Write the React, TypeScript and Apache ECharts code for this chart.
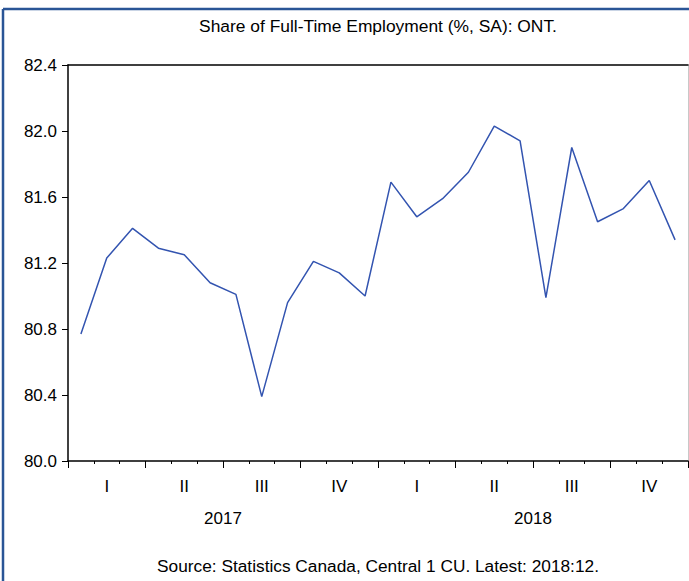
import React, { useEffect, useRef } from "react";
import * as echarts from "echarts";

const months = [
  "2017-01", "2017-02", "2017-03", "2017-04", "2017-05", "2017-06",
  "2017-07", "2017-08", "2017-09", "2017-10", "2017-11", "2017-12",
  "2018-01", "2018-02", "2018-03", "2018-04", "2018-05", "2018-06",
  "2018-07", "2018-08", "2018-09", "2018-10", "2018-11", "2018-12",
];
const shareFullTime = [
  80.77, 81.23, 81.41, 81.29, 81.25, 81.08, 81.01, 80.39, 80.96, 81.21, 81.14, 81.0,
  81.69, 81.48, 81.59, 81.75, 82.03, 81.94, 80.99, 81.9, 81.45, 81.53, 81.7, 81.34,
];
const quarterIds = ["2017Q1", "2017Q2", "2017Q3", "2017Q4", "2018Q1", "2018Q2", "2018Q3", "2018Q4"];
const quarterLabels = ["I", "II", "III", "IV", "I", "II", "III", "IV"];
const years = ["2017", "2018"];
const yMin = 80.0;
const yMax = 82.4;
const yStep = 0.4;

const titleText = "Share of Full-Time Employment (%, SA): ONT.";
const sourceText = "Source: Statistics Canada, Central 1 CU. Latest: 2018:12.";

const FONT = '"Liberation Sans", Arial, Helvetica, sans-serif';

export default function App() {
  const ref = useRef<HTMLDivElement>(null);
  useEffect(() => {
    if (!ref.current) return;
    const chart = echarts.init(ref.current, undefined, { renderer: "svg" });
    const hidden = { show: false };
    chart.setOption({
      animation: false,
      backgroundColor: "#ffffff",
      title: [
        {
          text: titleText,
          left: 378,
          top: 17,
          padding: 0,
          textAlign: "center",
          textStyle: { fontFamily: FONT, fontSize: 17.4, fontWeight: "normal", color: "#000" },
        },
        {
          text: sourceText,
          left: 378,
          top: 557,
          padding: 0,
          textAlign: "center",
          textStyle: { fontFamily: FONT, fontSize: 17.3, fontWeight: "normal", color: "#000" },
        },
      ],
      grid: { left: 68, right: 1, top: 65, bottom: 120, containLabel: false },
      xAxis: [
        {
          type: "category",
          data: months,
          position: "bottom",
          boundaryGap: true,
          axisLine: { show: true, lineStyle: { color: "#000", width: 1.5 } },
          axisTick: { show: true, interval: 0, length: 3, lineStyle: { color: "#000", width: 1 } },
          axisLabel: hidden,
          splitLine: hidden,
        },
        {
          type: "category",
          data: quarterIds,
          position: "bottom",
          boundaryGap: true,
          axisLine: hidden,
          axisTick: { show: true, interval: 0, length: 7, lineStyle: { color: "#000", width: 1 } },
          axisLabel: {
            show: true,
            interval: 0,
            margin: 17,
            fontFamily: FONT,
            fontSize: 17,
            color: "#000",
            formatter: (_v: string, i: number) => quarterLabels[i],
          },
          splitLine: hidden,
        },
        {
          type: "category",
          data: years,
          position: "bottom",
          boundaryGap: true,
          axisLine: hidden,
          axisTick: hidden,
          axisLabel: { show: true, interval: 0, margin: 49, fontFamily: FONT, fontSize: 17, color: "#000" },
          splitLine: hidden,
        },
        {
          type: "category",
          data: months,
          position: "top",
          boundaryGap: true,
          axisLine: { show: true, lineStyle: { color: "#000", width: 1.5 } },
          axisTick: hidden,
          axisLabel: hidden,
          splitLine: hidden,
        },
      ],
      yAxis: [
        {
          type: "value",
          min: yMin,
          max: yMax,
          interval: yStep,
          position: "left",
          axisLine: { show: true, lineStyle: { color: "#000", width: 1.5 } },
          axisTick: { show: true, length: 6, lineStyle: { color: "#000", width: 1 } },
          axisLabel: {
            show: true,
            margin: 11,
            fontFamily: FONT,
            fontSize: 17,
            color: "#000",
            formatter: (v: number) => v.toFixed(1),
          },
          splitLine: hidden,
        },
        {
          type: "value",
          min: yMin,
          max: yMax,
          interval: yStep,
          position: "right",
          axisLine: { show: true, lineStyle: { color: "#c8c8c8", width: 1 } },
          axisTick: hidden,
          axisLabel: hidden,
          splitLine: hidden,
        },
      ],
      series: [
        {
          type: "line",
          xAxisIndex: 0,
          yAxisIndex: 0,
          data: shareFullTime,
          symbol: "none",
          lineStyle: { color: "#3354b0", width: 1.5 },
          silent: true,
        },
      ],
      graphic: [
        {
          type: "line",
          silent: true,
          shape: { x1: 3, y1: 9, x2: 689, y2: 9 },
          style: { stroke: "#2a5596", lineWidth: 2.5 },
        },
        {
          type: "line",
          silent: true,
          shape: { x1: 3, y1: 9, x2: 3, y2: 581 },
          style: { stroke: "#2a5596", lineWidth: 2.5 },
        },
      ],
    });
    return () => chart.dispose();
  }, []);
  return <div ref={ref} style={{ width: 689, height: 581, position: "absolute", left: 0, top: 0 }} />;
}
